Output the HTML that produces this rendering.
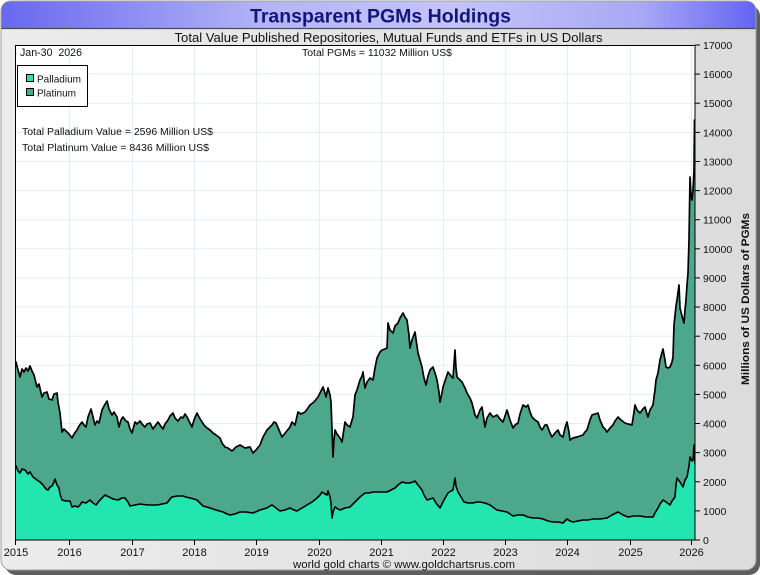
<!DOCTYPE html>
<html><head><meta charset="utf-8"><style>
html,body{margin:0;padding:0;background:#fff;}
svg{display:block;font-family:"Liberation Sans",Arial,sans-serif;}
</style></head><body>
<svg width="760" height="575" viewBox="0 0 760 575" xmlns="http://www.w3.org/2000/svg">
<defs>
<linearGradient id="bg" x1="0" y1="0" x2="1" y2="0">
<stop offset="0" stop-color="#ececec"/><stop offset="1" stop-color="#dcdcdc"/>
</linearGradient>
<linearGradient id="tb" x1="0" y1="0" x2="1" y2="0">
<stop offset="0" stop-color="#6868f0"/><stop offset="0.35" stop-color="#b4b4f6"/><stop offset="0.6" stop-color="#c4c4f8"/><stop offset="0.85" stop-color="#a8a8f6"/><stop offset="1" stop-color="#6464f4"/>
</linearGradient>
<clipPath id="pc"><rect x="15.5" y="45.5" width="679.5" height="494.5"/></clipPath>
</defs>
<rect x="5" y="5" width="755" height="570" rx="11" fill="#5e5e5e"/>
<rect x="1" y="1" width="755" height="569" rx="10" fill="url(#bg)" stroke="#a0a0a0" stroke-width="1"/>
<path d="M1.5,28.5 L1.5,11 Q1.5,1.5 11,1.5 L746,1.5 Q755.5,1.5 755.5,11 L755.5,28.5 Z" fill="url(#tb)"/>
<line x1="1.5" y1="28.5" x2="755.5" y2="28.5" stroke="#4a4a5a" stroke-width="1.2"/>
<text x="380.5" y="22.5" text-anchor="middle" font-size="19" font-weight="bold" fill="#14147a" textLength="261" lengthAdjust="spacingAndGlyphs">Transparent PGMs Holdings</text>
<text x="388.5" y="42" text-anchor="middle" font-size="13" fill="#111" textLength="428" lengthAdjust="spacingAndGlyphs">Total Value Published Repositories, Mutual Funds and ETFs in US Dollars</text>

<rect x="15.5" y="45.5" width="679.5" height="494.5" fill="#fff"/>
<g stroke="#e2eef8" stroke-width="1">
<line x1="69.5" y1="46" x2="69.5" y2="540"/><line x1="132.5" y1="46" x2="132.5" y2="540"/><line x1="194.5" y1="46" x2="194.5" y2="540"/><line x1="256.5" y1="46" x2="256.5" y2="540"/><line x1="319.5" y1="46" x2="319.5" y2="540"/><line x1="381.5" y1="46" x2="381.5" y2="540"/><line x1="443.5" y1="46" x2="443.5" y2="540"/><line x1="505.5" y1="46" x2="505.5" y2="540"/><line x1="567.5" y1="46" x2="567.5" y2="540"/><line x1="630.5" y1="46" x2="630.5" y2="540"/><line x1="691.5" y1="46" x2="691.5" y2="540"/>
<line x1="16" y1="510.9" x2="695" y2="510.9"/><line x1="16" y1="481.8" x2="695" y2="481.8"/><line x1="16" y1="452.6" x2="695" y2="452.6"/><line x1="16" y1="423.5" x2="695" y2="423.5"/><line x1="16" y1="394.4" x2="695" y2="394.4"/><line x1="16" y1="365.3" x2="695" y2="365.3"/><line x1="16" y1="336.2" x2="695" y2="336.2"/><line x1="16" y1="307" x2="695" y2="307"/><line x1="16" y1="277.9" x2="695" y2="277.9"/><line x1="16" y1="248.8" x2="695" y2="248.8"/><line x1="16" y1="219.7" x2="695" y2="219.7"/><line x1="16" y1="190.6" x2="695" y2="190.6"/><line x1="16" y1="161.5" x2="695" y2="161.5"/><line x1="16" y1="132.4" x2="695" y2="132.4"/><line x1="16" y1="103.2" x2="695" y2="103.2"/><line x1="16" y1="74.1" x2="695" y2="74.1"/>
</g>
<g clip-path="url(#pc)">
<polygon fill="#4da78b" points="15,540 15,363 16,362 18,370 20,377 22,369 24,372 26,368 28,371 30,366 32,371 34,375 37,387 39,384 42,397 44,393 47,392 49,399 52,400 54,394 57,393 58,402 60,413 62,432 64,429 67,432 69,434 72,438 74,434 77,430 79,426 82,422 84,425 86,427 88,417 91,409 93,417 95,425 97,421 99,423 102,410 104,406 107,401 109,409 112,415 114,412 117,417 119,427 121,420 123,417 126,421 128,422 130,429 132,433 135,422 137,424 140,421 142,424 145,427 147,424 150,423 153,429 155,426 158,422 160,425 163,429 165,424 168,420 170,416 173,413 175,418 178,421 181,417 183,418 185,414 187,417 190,423 192,427 194,420 197,413 199,417 202,422 204,425 207,428 210,430 213,433 216,435 220,438 222,443 225,447 228,448 232,451 236,447 240,445 245,448 250,447 253,453 256,450 260,445 263,437 267,430 270,427 272,425 274,422 276,423 279,430 282,437 286,432 290,427 292,422 295,425 298,412 301,414 305,412 308,408 310,405 314,402 318,397 320,393 323,387 325,393 326,397 328,388 330,395 331,402 332,430 333,457 334,440 335,430 337,434 340,438 342,442 345,422 347,425 350,427 352,420 353,417 355,395 357,390 360,380 362,376 363,372 365,388 367,382 370,378 373,380 375,368 377,358 380,352 382,350 385,349 387,348 388,323 390,330 393,333 395,326 398,323 400,318 403,313 405,317 407,320 409,335 410,348 412,340 415,332 418,353 420,360 422,367 424,378 426,385 428,376 430,370 433,367 435,373 437,380 439,392 440,402 442,393 443,387 446,378 448,372 451,376 453,378 455,350 456,368 457,377 460,380 462,382 465,388 467,393 470,398 472,403 475,415 477,418 480,410 482,407 485,427 487,418 490,413 493,417 497,415 500,419 503,422 505,416 507,410 510,420 513,428 515,425 518,423 520,414 523,405 526,407 528,405 530,412 532,417 535,420 538,422 540,427 542,430 545,425 547,425 550,433 552,437 555,433 558,430 560,435 563,437 565,428 567,422 569,432 570,440 573,438 577,437 580,436 583,435 585,432 587,430 590,420 592,415 595,414 598,413 600,420 603,427 605,429 607,432 610,428 613,425 615,421 618,417 621,420 625,423 628,424 632,425 634,412 635,405 637,410 640,413 643,409 645,407 647,414 648,417 650,410 653,405 654,397 655,390 656,380 658,373 660,360 663,349 665,360 666,367 668,368 670,367 672,362 673,357 674,325 676,306 677,300 679,285 680,308 682,316 684,323 685,310 686,300 687,285 688,273 689,240 690,177 691,196 692,200 693,190 694,170 694.5,120 695,165 696,540"/>
<polygon fill="#24e4af" points="15,540 15,468 16,466 18,471 20,473 22,469 25,470 28,474 30,472 33,477 37,480 40,482 43,485 46,489 48,490 50,487 52,486 54,482 55,479 57,485 59,488 60,494 62,500 66,501 70,501 72,507 75,506 78,507 80,505 82,502 86,503 90,500 93,503 96,505 100,500 105,495 109,497 113,499 118,500 122,498 125,498 128,502 130,506 135,505 140,504 148,505 157,505 162,504 167,503 170,499 172,497 177,496 183,496 186,497 190,498 194,499 197,500 200,503 203,506 207,507 210,508 216,510 223,512 227,514 230,515 235,514 240,512 246,512 253,513 260,510 267,508 270,506 272,505 276,508 280,511 285,510 290,508 294,510 297,511 302,508 307,505 312,502 317,498 320,495 322,492 325,494 327,495 328,491 330,497 331,503 332,518 333,512 335,507 338,509 340,510 345,508 350,507 353,504 355,502 360,497 365,493 369,493 373,492 380,492 387,492 391,490 395,488 398,485 402,482 406,483 410,483 413,482 415,481 418,485 422,490 424,495 427,500 430,499 433,498 436,503 440,508 444,500 448,493 451,491 453,490 455,478 456,486 458,492 461,497 464,502 468,503 473,503 477,502 480,502 485,503 490,505 494,508 497,510 502,511 507,512 510,514 513,516 518,515 523,515 528,517 533,518 538,518 543,519 548,521 553,522 558,522 563,523 565,521 567,519 570,521 573,522 578,521 583,520 588,520 593,519 600,519 607,518 612,515 618,512 623,515 628,517 634,516 640,516 646,517 653,517 655,513 658,508 660,504 663,500 666,502 670,505 672,501 675,497 676,485 677,478 680,482 683,487 685,480 687,477 689,466 690,457 692,461 693,460 694,445 695,464 696,540"/>
<polyline fill="none" stroke="#000" stroke-width="1.7" stroke-linejoin="round" points="15,363 16,362 18,370 20,377 22,369 24,372 26,368 28,371 30,366 32,371 34,375 37,387 39,384 42,397 44,393 47,392 49,399 52,400 54,394 57,393 58,402 60,413 62,432 64,429 67,432 69,434 72,438 74,434 77,430 79,426 82,422 84,425 86,427 88,417 91,409 93,417 95,425 97,421 99,423 102,410 104,406 107,401 109,409 112,415 114,412 117,417 119,427 121,420 123,417 126,421 128,422 130,429 132,433 135,422 137,424 140,421 142,424 145,427 147,424 150,423 153,429 155,426 158,422 160,425 163,429 165,424 168,420 170,416 173,413 175,418 178,421 181,417 183,418 185,414 187,417 190,423 192,427 194,420 197,413 199,417 202,422 204,425 207,428 210,430 213,433 216,435 220,438 222,443 225,447 228,448 232,451 236,447 240,445 245,448 250,447 253,453 256,450 260,445 263,437 267,430 270,427 272,425 274,422 276,423 279,430 282,437 286,432 290,427 292,422 295,425 298,412 301,414 305,412 308,408 310,405 314,402 318,397 320,393 323,387 325,393 326,397 328,388 330,395 331,402 332,430 333,457 334,440 335,430 337,434 340,438 342,442 345,422 347,425 350,427 352,420 353,417 355,395 357,390 360,380 362,376 363,372 365,388 367,382 370,378 373,380 375,368 377,358 380,352 382,350 385,349 387,348 388,323 390,330 393,333 395,326 398,323 400,318 403,313 405,317 407,320 409,335 410,348 412,340 415,332 418,353 420,360 422,367 424,378 426,385 428,376 430,370 433,367 435,373 437,380 439,392 440,402 442,393 443,387 446,378 448,372 451,376 453,378 455,350 456,368 457,377 460,380 462,382 465,388 467,393 470,398 472,403 475,415 477,418 480,410 482,407 485,427 487,418 490,413 493,417 497,415 500,419 503,422 505,416 507,410 510,420 513,428 515,425 518,423 520,414 523,405 526,407 528,405 530,412 532,417 535,420 538,422 540,427 542,430 545,425 547,425 550,433 552,437 555,433 558,430 560,435 563,437 565,428 567,422 569,432 570,440 573,438 577,437 580,436 583,435 585,432 587,430 590,420 592,415 595,414 598,413 600,420 603,427 605,429 607,432 610,428 613,425 615,421 618,417 621,420 625,423 628,424 632,425 634,412 635,405 637,410 640,413 643,409 645,407 647,414 648,417 650,410 653,405 654,397 655,390 656,380 658,373 660,360 663,349 665,360 666,367 668,368 670,367 672,362 673,357 674,325 676,306 677,300 679,285 680,308 682,316 684,323 685,310 686,300 687,285 688,273 689,240 690,177 691,196 692,200 693,190 694,170 694.5,120 695,165"/>
<polyline fill="none" stroke="#000" stroke-width="1.6" stroke-linejoin="round" points="15,468 16,466 18,471 20,473 22,469 25,470 28,474 30,472 33,477 37,480 40,482 43,485 46,489 48,490 50,487 52,486 54,482 55,479 57,485 59,488 60,494 62,500 66,501 70,501 72,507 75,506 78,507 80,505 82,502 86,503 90,500 93,503 96,505 100,500 105,495 109,497 113,499 118,500 122,498 125,498 128,502 130,506 135,505 140,504 148,505 157,505 162,504 167,503 170,499 172,497 177,496 183,496 186,497 190,498 194,499 197,500 200,503 203,506 207,507 210,508 216,510 223,512 227,514 230,515 235,514 240,512 246,512 253,513 260,510 267,508 270,506 272,505 276,508 280,511 285,510 290,508 294,510 297,511 302,508 307,505 312,502 317,498 320,495 322,492 325,494 327,495 328,491 330,497 331,503 332,518 333,512 335,507 338,509 340,510 345,508 350,507 353,504 355,502 360,497 365,493 369,493 373,492 380,492 387,492 391,490 395,488 398,485 402,482 406,483 410,483 413,482 415,481 418,485 422,490 424,495 427,500 430,499 433,498 436,503 440,508 444,500 448,493 451,491 453,490 455,478 456,486 458,492 461,497 464,502 468,503 473,503 477,502 480,502 485,503 490,505 494,508 497,510 502,511 507,512 510,514 513,516 518,515 523,515 528,517 533,518 538,518 543,519 548,521 553,522 558,522 563,523 565,521 567,519 570,521 573,522 578,521 583,520 588,520 593,519 600,519 607,518 612,515 618,512 623,515 628,517 634,516 640,516 646,517 653,517 655,513 658,508 660,504 663,500 666,502 670,505 672,501 675,497 676,485 677,478 680,482 683,487 685,480 687,477 689,466 690,457 692,461 693,460 694,445 695,464"/>
</g>
<rect x="15.5" y="45.5" width="679.5" height="494.5" fill="none" stroke="#000" stroke-width="1"/>

<g stroke="#000" stroke-width="1">
<line x1="695" y1="540" x2="700" y2="540"/><line x1="695" y1="510.9" x2="700" y2="510.9"/><line x1="695" y1="481.8" x2="700" y2="481.8"/><line x1="695" y1="452.6" x2="700" y2="452.6"/><line x1="695" y1="423.5" x2="700" y2="423.5"/><line x1="695" y1="394.4" x2="700" y2="394.4"/><line x1="695" y1="365.3" x2="700" y2="365.3"/><line x1="695" y1="336.2" x2="700" y2="336.2"/><line x1="695" y1="307" x2="700" y2="307"/><line x1="695" y1="277.9" x2="700" y2="277.9"/><line x1="695" y1="248.8" x2="700" y2="248.8"/><line x1="695" y1="219.7" x2="700" y2="219.7"/><line x1="695" y1="190.6" x2="700" y2="190.6"/><line x1="695" y1="161.5" x2="700" y2="161.5"/><line x1="695" y1="132.4" x2="700" y2="132.4"/><line x1="695" y1="103.2" x2="700" y2="103.2"/><line x1="695" y1="74.1" x2="700" y2="74.1"/><line x1="695" y1="45" x2="700" y2="45"/>
<line x1="15.5" y1="540" x2="15.5" y2="545"/><line x1="69.5" y1="540" x2="69.5" y2="545"/><line x1="132.5" y1="540" x2="132.5" y2="545"/><line x1="194.5" y1="540" x2="194.5" y2="545"/><line x1="256.5" y1="540" x2="256.5" y2="545"/><line x1="319.5" y1="540" x2="319.5" y2="545"/><line x1="381.5" y1="540" x2="381.5" y2="545"/><line x1="443.5" y1="540" x2="443.5" y2="545"/><line x1="505.5" y1="540" x2="505.5" y2="545"/><line x1="567.5" y1="540" x2="567.5" y2="545"/><line x1="630.5" y1="540" x2="630.5" y2="545"/><line x1="691.5" y1="540" x2="691.5" y2="545"/>
</g>
<g font-size="10.5" fill="#111">
<text x="703" y="544">0</text><text x="703" y="514.9">1000</text><text x="703" y="485.8">2000</text><text x="703" y="456.6">3000</text><text x="703" y="427.5">4000</text><text x="703" y="398.4">5000</text><text x="703" y="369.3">6000</text><text x="703" y="340.2">7000</text><text x="703" y="311">8000</text><text x="703" y="281.9">9000</text><text x="703" y="252.8">10000</text><text x="703" y="223.7">11000</text><text x="703" y="194.6">12000</text><text x="703" y="165.5">13000</text><text x="703" y="136.4">14000</text><text x="703" y="107.2">15000</text><text x="703" y="78.1">16000</text><text x="703" y="49">17000</text>
</g>
<g font-size="11" fill="#111" text-anchor="middle">
<text x="16" y="556">2015</text><text x="69.5" y="556">2016</text><text x="132.5" y="556">2017</text><text x="194.5" y="556">2018</text><text x="256.5" y="556">2019</text><text x="319.5" y="556">2020</text><text x="381.5" y="556">2021</text><text x="443.5" y="556">2022</text><text x="505.5" y="556">2023</text><text x="567.5" y="556">2024</text><text x="630.5" y="556">2025</text><text x="691.5" y="556">2026</text>
</g>
<text x="404" y="568" text-anchor="middle" font-size="11" fill="#111" textLength="222" lengthAdjust="spacingAndGlyphs">world gold charts © www.goldchartsrus.com</text>
<text transform="translate(749,299) rotate(-90)" text-anchor="middle" font-size="11" font-weight="bold" fill="#111" textLength="172" lengthAdjust="spacingAndGlyphs">Millions of US Dollars of PGMs</text>

<text x="20" y="56" font-size="11" fill="#111" textLength="62" lengthAdjust="spacingAndGlyphs">Jan-30&#160; 2026</text>
<text x="302" y="56" font-size="10" fill="#111" textLength="150" lengthAdjust="spacingAndGlyphs">Total PGMs = 11032 Million US$</text>
<rect x="17.5" y="65.5" width="70" height="41" fill="#fff" stroke="#000" stroke-width="1"/>
<rect x="26.5" y="74.5" width="7" height="7" fill="#24e4af" stroke="#000" stroke-width="1"/>
<rect x="26.5" y="88.5" width="7" height="7" fill="#4da78b" stroke="#000" stroke-width="1"/>
<text x="37" y="82.5" font-size="10.5" fill="#111" textLength="44" lengthAdjust="spacingAndGlyphs">Palladium</text>
<text x="37" y="96.5" font-size="10.5" fill="#111" textLength="39" lengthAdjust="spacingAndGlyphs">Platinum</text>
<text x="22" y="135" font-size="10" fill="#111" textLength="191" lengthAdjust="spacingAndGlyphs">Total Palladium Value = 2596 Million US$</text>
<text x="22" y="151" font-size="10" fill="#111" textLength="187" lengthAdjust="spacingAndGlyphs">Total Platinum Value = 8436 Million US$</text>
</svg>
</body></html>
